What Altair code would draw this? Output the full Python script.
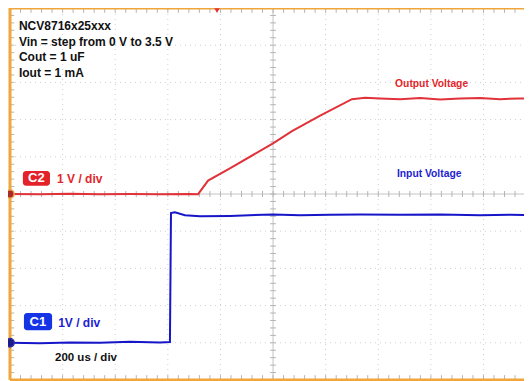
import altair as alt
import numpy as np
import pandas as pd

# ---------------- data (time in microseconds, voltage in volts) ----------------
red_t = [0, 114, 228, 342, 456, 570, 684, 715, 753, 836, 1000, 1072, 1179, 1300,
         1350, 1407, 1483, 1559, 1635, 1711, 1787, 1863, 1939, 1985]
red_v = [0.0, -0.01, 0.005, -0.005, 0.0, -0.01, 0.0, -0.005, 0.36, 0.69, 1.36, 1.69,
         2.11, 2.55, 2.59, 2.57, 2.55, 2.58, 2.54, 2.57, 2.58, 2.55, 2.57, 2.56]
blue_t = [0, 114, 228, 342, 456, 570, 608, 612, 627, 665, 722, 836, 1000, 1103,
          1217, 1331, 1483, 1635, 1787, 1901, 1985]
blue_v = [0.0, -0.01, 0.01, 0.0, 0.03, 0.01, 0.02, 3.49, 3.51, 3.43, 3.40, 3.41,
          3.45, 3.43, 3.44, 3.45, 3.44, 3.45, 3.43, 3.44, 3.43]

channels = ["C2", "C1"]            # output (red), input (blue)
volts_per_div = [1.0, 1.0]
ground_div = [5.0, 1.0]            # ground reference level, in divisions from bottom
trace_colors = ["#E1323A", "#1616C8"]

info_lines = ["NCV8716x25xxx", "Vin = step from 0 V to 3.5 V", "Cout = 1 uF", "Iout = 1 mA"]
time_per_div = 200                 # us / div
n_xdiv, n_ydiv = 10, 10
t_max = 1954                       # visible part of the 2000 us screen

# ---------------- tables ----------------
tr = []
for ch, ts, vs, vd, g in zip(channels, [red_t, blue_t], [red_v, blue_v], volts_per_div, ground_div):
    for t, v in zip(ts, vs):
        tr.append({"t": t, "y": v / vd + g, "ch": ch})
traces = pd.DataFrame(tr)

X = alt.Scale(domain=[0, t_max], nice=False, zero=False)
Y = alt.Scale(domain=[0, n_ydiv], nice=False, zero=False)

def xq(f="x"):
    return alt.X(f + ":Q", scale=X, axis=None)

def yq(f="y"):
    return alt.Y(f + ":Q", scale=Y, axis=None)

# grid (dotted)
gx = [i * time_per_div for i in range(1, n_xdiv) if i != n_xdiv // 2]
gy = [i for i in range(1, n_ydiv) if i != n_ydiv // 2]
grid_v = pd.DataFrame({"x": gx, "y": 0, "y2": n_ydiv})
grid_h = pd.DataFrame({"x": 0, "x2": t_max, "y": gy})
gstyle = dict(color="#cfcfcf", strokeWidth=1, strokeDash=[1, 4])
grid = (alt.Chart(grid_v).mark_rule(**gstyle).encode(x=xq(), y=yq(), y2="y2:Q")
        + alt.Chart(grid_h).mark_rule(**gstyle).encode(x=xq(), x2="x2:Q", y=yq()))

# center crosshair
cx = n_xdiv // 2 * time_per_div
cy = n_ydiv / 2
cross = (alt.Chart(pd.DataFrame({"x": [cx], "y": [0], "y2": [n_ydiv]}))
         .mark_rule(color="#c4c4c4", strokeWidth=1).encode(x=xq(), y=yq(), y2="y2:Q")
         + alt.Chart(pd.DataFrame({"x": [0], "x2": [t_max], "y": [cy]}))
         .mark_rule(color="#c4c4c4", strokeWidth=1).encode(x=xq(), x2="x2:Q", y=yq()))

minor_t = np.arange(40, t_max, 40)
minor_y = np.round(np.arange(0.2, n_ydiv, 0.2), 2)
tk = []
for t in minor_t:
    tk.append({"x": t, "x2": t, "y": cy - 0.08, "y2": cy + 0.08})
    tk.append({"x": t, "x2": t, "y": n_ydiv, "y2": n_ydiv - 0.13})
    tk.append({"x": t, "x2": t, "y": 0, "y2": 0.13})
for yv in minor_y:
    tk.append({"x": cx - 11, "x2": cx + 11, "y": yv, "y2": yv})
    tk.append({"x": 0, "x2": 16, "y": yv, "y2": yv})
ticks = alt.Chart(pd.DataFrame(tk)).mark_rule(color="#b4b4b4", strokeWidth=1).encode(
    x=xq(), x2="x2:Q", y=yq(), y2="y2:Q")

# orange frame
frame_df = pd.DataFrame([
    {"x": 0, "x2": 0, "y": 0, "y2": n_ydiv},
    {"x": 0, "x2": t_max, "y": n_ydiv, "y2": n_ydiv},
    {"x": 0, "x2": t_max, "y": 0, "y2": 0},
])
frame = alt.Chart(frame_df).mark_rule(color="#EFA63A", strokeWidth=3).encode(
    x=xq(), x2="x2:Q", y=yq(), y2="y2:Q")

# traces
lines = alt.Chart(traces).mark_line(strokeWidth=2, clip=True).encode(
    x=xq("t"), y=yq("y"),
    color=alt.Color("ch:N", scale=alt.Scale(domain=channels, range=trace_colors), legend=None),
    detail="ch:N")

# ground markers
gm = pd.DataFrame({"x": [0, 0], "y": ground_div, "fill": ["#A82A2A", "#1C1C8A"],
                   "stroke": ["#F0A848", "#3030A0"]})
ground = alt.Chart(gm).mark_point(filled=True, size=70, opacity=1, strokeWidth=1.5).encode(
    x=xq(), y=yq(), fill=alt.Fill("fill:N", scale=None), stroke=alt.Stroke("stroke:N", scale=None))

# trigger position marker
trig_pos = alt.Chart(pd.DataFrame({"x": [787], "y": [9.93]})).mark_point(
    shape="triangle-down", filled=True, size=30, color="#E1323A", opacity=1).encode(x=xq(), y=yq())

# channel badges
badges = pd.DataFrame([
    {"x": 49, "x2": 152, "y": 5.22, "y2": 5.62, "c": "#E3222A"},
    {"x": 53, "x2": 160, "y": 1.34, "y2": 1.80, "c": "#1434E6"},
])
badge = alt.Chart(badges).mark_rect(cornerRadius=3).encode(
    x=xq(), x2="x2:Q", y=yq(), y2="y2:Q", color=alt.Color("c:N", scale=None))

ann = pd.DataFrame([
    {"x": 34, "y": 9.52, "text": info_lines[0], "c": "#111111", "s": 12, "a": "left"},
    {"x": 34, "y": 9.09, "text": info_lines[1], "c": "#111111", "s": 12, "a": "left"},
    {"x": 34, "y": 8.68, "text": info_lines[2], "c": "#111111", "s": 12, "a": "left"},
    {"x": 34, "y": 8.25, "text": info_lines[3], "c": "#111111", "s": 12, "a": "left"},
    {"x": 100, "y": 5.42, "text": "C2", "c": "#ffffff", "s": 13, "a": "center"},
    {"x": 106, "y": 1.57, "text": "C1", "c": "#ffffff", "s": 13, "a": "center"},
    {"x": 179, "y": 5.41, "text": "1 V / div", "c": "#E3262C", "s": 12, "a": "left"},
    {"x": 183, "y": 1.53, "text": "1V / div", "c": "#1E1ED2", "s": 12, "a": "left"},
    {"x": 171, "y": 0.59, "text": f"{time_per_div} us / div", "c": "#111111", "s": 11.5, "a": "left"},
    {"x": 1464, "y": 7.96, "text": "Output Voltage", "c": "#E3262C", "s": 10.3, "a": "left"},
    {"x": 1471, "y": 5.54, "text": "Input Voltage", "c": "#1E1ED2", "s": 10.3, "a": "left"},
])
texts = []
for a in ["left", "center"]:
    texts.append(alt.Chart(ann[ann.a == a]).mark_text(
        align=a, baseline="middle", font="Liberation Sans", fontWeight="bold").encode(
        x=xq(), y=yq(), text="text:N", color=alt.Color("c:N", scale=None),
        size=alt.Size("s:Q", scale=None)))

chart = alt.layer(grid, cross, ticks, lines, frame, ground, trig_pos, badge, *texts).properties(
    width=514, height=372, autosize=alt.AutoSizeParams(type="none"),
    padding={"left": 2, "top": 0, "right": 0, "bottom": 1},
    background="white",
).configure_view(stroke=None)

chart.save("out.html", embed_options={"renderer": "svg", "actions": False})
